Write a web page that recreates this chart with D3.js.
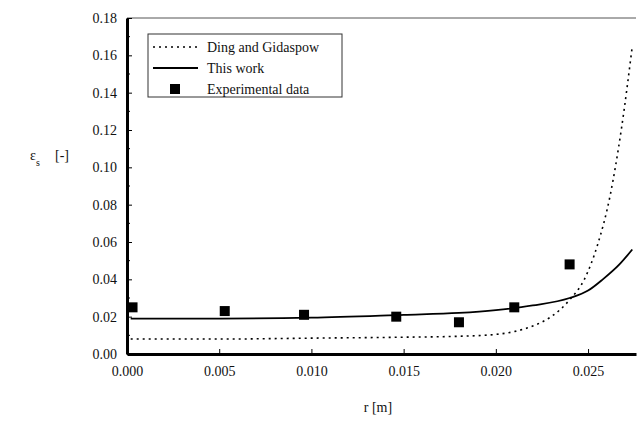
<!DOCTYPE html>
<html><head><meta charset="utf-8">
<script src="https://cdn.jsdelivr.net/npm/d3@7"></script>
<style>body{margin:0;background:#fff}svg text{font-family:"Liberation Serif","DejaVu Serif",serif !important;fill:#111}</style>
</head><body><div id="chart"></div>
<script>
// Data
const thisWorkR = [0.0002, 0.005, 0.010, 0.015, 0.018, 0.020, 0.022, 0.024, 0.025, 0.0258, 0.0267, 0.0274];
const thisWorkE = [0.019, 0.019, 0.0195, 0.021, 0.022, 0.0235, 0.026, 0.030, 0.034, 0.040, 0.048, 0.056];
const dingR = [0.0002, 0.005, 0.010, 0.015, 0.018, 0.020, 0.021, 0.022, 0.023, 0.024, 0.0248, 0.0255, 0.0262, 0.0268, 0.0274];
const dingE = [0.008, 0.008, 0.0085, 0.009, 0.0095, 0.0105, 0.012, 0.015, 0.020, 0.029, 0.040, 0.058, 0.085, 0.120, 0.165];
const expR = [0.0003, 0.0053, 0.0096, 0.0146, 0.018, 0.021, 0.024];
const expE = [0.025, 0.023, 0.021, 0.020, 0.017, 0.025, 0.048];
const xTicks = [0, 0.005, 0.010, 0.015, 0.020, 0.025];
const yTicks = [0, 0.02, 0.04, 0.06, 0.08, 0.10, 0.12, 0.14, 0.16, 0.18];

const svg = d3.select("#chart").append("svg").attr("width", 640).attr("height", 427);
const x = d3.scaleLinear().domain([0, 0.0276]).range([127, 636]);
const y = d3.scaleLinear().domain([0, 0.18]).range([354, 18]);

// frame
svg.append("line").attr("x1", 127).attr("x2", 636).attr("y1", 18).attr("y2", 18).attr("stroke", "#555").attr("stroke-width", 1);

const xAxis = svg.append("g").attr("transform", "translate(0,354)")
  .call(d3.axisBottom(x).tickValues(xTicks).tickFormat(d3.format(".3f")).tickSizeInner(-5).tickSizeOuter(0).tickPadding(12));
const yAxis = svg.append("g").attr("transform", "translate(127,0)")
  .call(d3.axisLeft(y).tickValues(yTicks).tickFormat(d3.format(".2f")).tickSizeInner(-5).tickSizeOuter(0).tickPadding(10));
[xAxis, yAxis].forEach(a => {
  a.attr("font-family", null).attr("font-size", null);
  a.select(".domain").attr("stroke", "#000").attr("stroke-width", 3);
  a.selectAll("text").style("font-size", "14px");
});
// minor ticks
yAxis.selectAll(".minor").data(d3.range(0.01, 0.18, 0.02)).join("line")
  .attr("x1", 0).attr("x2", 3).attr("y1", d => y(d)).attr("y2", d => y(d)).attr("stroke", "#000");

const line = d3.line().x(d => x(d[0])).y(d => y(d[1])).curve(d3.curveMonotoneX);
svg.append("path").datum(dingR.map((r, i) => [r, dingE[i]])).attr("d", line)
  .attr("fill", "none").attr("stroke", "#000").attr("stroke-width", 1.6).attr("stroke-dasharray", "2,4");
svg.append("path").datum(thisWorkR.map((r, i) => [r, thisWorkE[i]])).attr("d", line)
  .attr("fill", "none").attr("stroke", "#000").attr("stroke-width", 1.8);
svg.selectAll(".pt").data(expR.map((r, i) => [r, expE[i]])).join("rect")
  .attr("x", d => x(d[0]) - 5).attr("y", d => y(d[1]) - 5).attr("width", 10).attr("height", 10).attr("fill", "#000");

// legend
const lg = svg.append("g");
lg.append("rect").attr("x", 148).attr("y", 34).attr("width", 194).attr("height", 63).attr("fill", "#fff").attr("stroke", "#333");
lg.append("line").attr("x1", 153).attr("x2", 198).attr("y1", 47).attr("y2", 47).attr("stroke", "#000").attr("stroke-width", 1.4).attr("stroke-dasharray", "2,4");
lg.append("line").attr("x1", 153).attr("x2", 198).attr("y1", 68).attr("y2", 68).attr("stroke", "#000").attr("stroke-width", 1.8);
lg.append("rect").attr("x", 170).attr("y", 84).attr("width", 10).attr("height", 10).attr("fill", "#000");
const names = ["Ding and Gidaspow", "This work", "Experimental data"];
lg.selectAll(".lt").data(names).join("text").attr("x", 207).attr("y", (d, i) => 52 + i * 21)
  .style("font-size", "14px").text(d => d);

svg.append("text").attr("x", 30).attr("y", 160).style("font-size", "14px").text("ε").append("tspan").attr("baseline-shift", "sub").style("font-size", "10px").text("s");
svg.append("text").attr("x", 55).attr("y", 160).style("font-size", "14px").text("[-]");
svg.append("text").attr("x", 378).attr("y", 412).attr("text-anchor", "middle").style("font-size", "14px").text("r  [m]");
</script></body></html>
